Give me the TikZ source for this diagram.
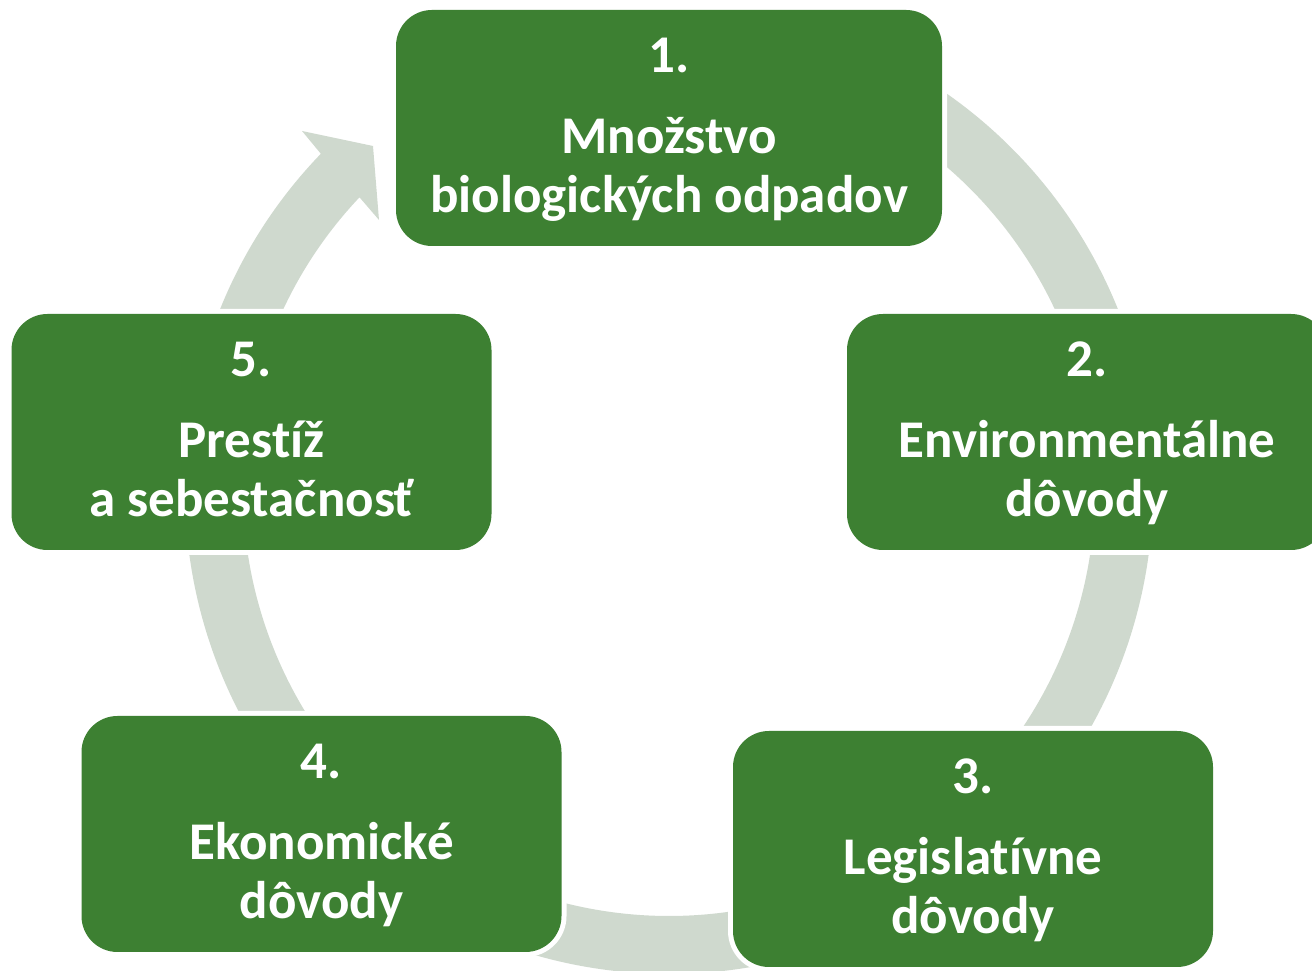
\documentclass[tikz,border=0pt]{standalone}
\usepackage{fontspec}
\setmainfont{Carlito}[Ligatures=NoCommon]
\definecolor{boxgreen}{RGB}{61,128,50}
\definecolor{arcgray}{RGB}{207,217,206}
\tikzset{
  stagebox/.style={rounded corners=36pt, fill=boxgreen, minimum height=236pt, minimum width=480pt,
    inner sep=0pt, preaction={draw=white, line width=10pt}},
  stagetext/.style={anchor=base, text=white, font=\fontsize{53}{62}\selectfont\bfseries, inner sep=0pt},
  arcband/.style={fill=arcgray, draw=none}
}
\begin{document}
\begin{tikzpicture}[x=1pt,y=1pt]
\useasboundingbox (0,0) rectangle (1312,971);
\clip (0,0) rectangle (1312,971);
% cycle arcs
\begin{scope}[shift={(669,481)}]
  \coordinate (c) at (0,0);
  % 1 -> 2
  \fill[arcband] (62:484pt) arc[start angle=62, end angle=15, radius=484pt]
    -- (15:426pt) arc[start angle=15, end angle=62, radius=426pt] -- cycle;
  % 2 -> 3
  \fill[arcband] (-3:484pt) arc[start angle=-3, end angle=-45, radius=484pt]
    -- (-45:426pt) arc[start angle=-45, end angle=-3, radius=426pt] -- cycle;
  % 3 -> 4
  \fill[arcband] (-70:484pt) arc[start angle=-70, end angle=-115, radius=484pt]
    -- (-115:426pt) arc[start angle=-115, end angle=-70, radius=426pt] -- cycle;
  % 4 -> 5
  \fill[arcband] (-125:484pt) arc[start angle=-125, end angle=-178, radius=484pt]
    -- (-178:426pt) arc[start angle=-178, end angle=-125, radius=426pt] -- cycle;
  % 5 -> 1 with visible head
  \coordinate (barbA) at (-367pt,359pt);
  \coordinate (tip) at (-296pt,344pt);
  \coordinate (barbB) at (-290pt,270pt);
  \fill[arcband] (175:484pt) arc[start angle=175, end angle=136, radius=484pt]
    -- (barbA) -- (tip) -- (barbB)
    -- (136.6:426pt) arc[start angle=136.6, end angle=175, radius=426pt] -- cycle;
\end{scope}
% boxes
\node[stagebox, minimum width=546pt] (b1) at (669,843) {};
\node[stagebox] (b2) at (1087,539) {};
\node[stagebox] (b3) at (973,122) {};
\node[stagebox] (b4) at (321.5,137) {};
\node[stagebox] (b5) at (251.5,539) {};
% texts
\node[stagetext] (t1a) at (669,898) {1.};
\node[stagetext] (t1b) at (669,817) {Množstvo};
\node[stagetext] (t1c) at (669,758) {biologických odpadov};
\node[stagetext] (t2a) at (1087,594) {2.};
\node[stagetext] (t2b) at (1087,513) {Environmentálne};
\node[stagetext] (t2c) at (1087,454) {dôvody};
\node[stagetext] (t3a) at (973,177) {3.};
\node[stagetext] (t3b) at (973,96) {Legislatívne};
\node[stagetext] (t3c) at (973,37) {dôvody};
\node[stagetext] (t4a) at (321.5,192) {4.};
\node[stagetext] (t4b) at (321.5,111) {Ekonomické};
\node[stagetext] (t4c) at (321.5,52) {dôvody};
\node[stagetext] (t5a) at (251.5,594) {5.};
\node[stagetext] (t5b) at (251.5,513) {Prestíž};
\node[stagetext] (t5c) at (251.5,454) {a sebestačnosť};
\end{tikzpicture}
\end{document}
